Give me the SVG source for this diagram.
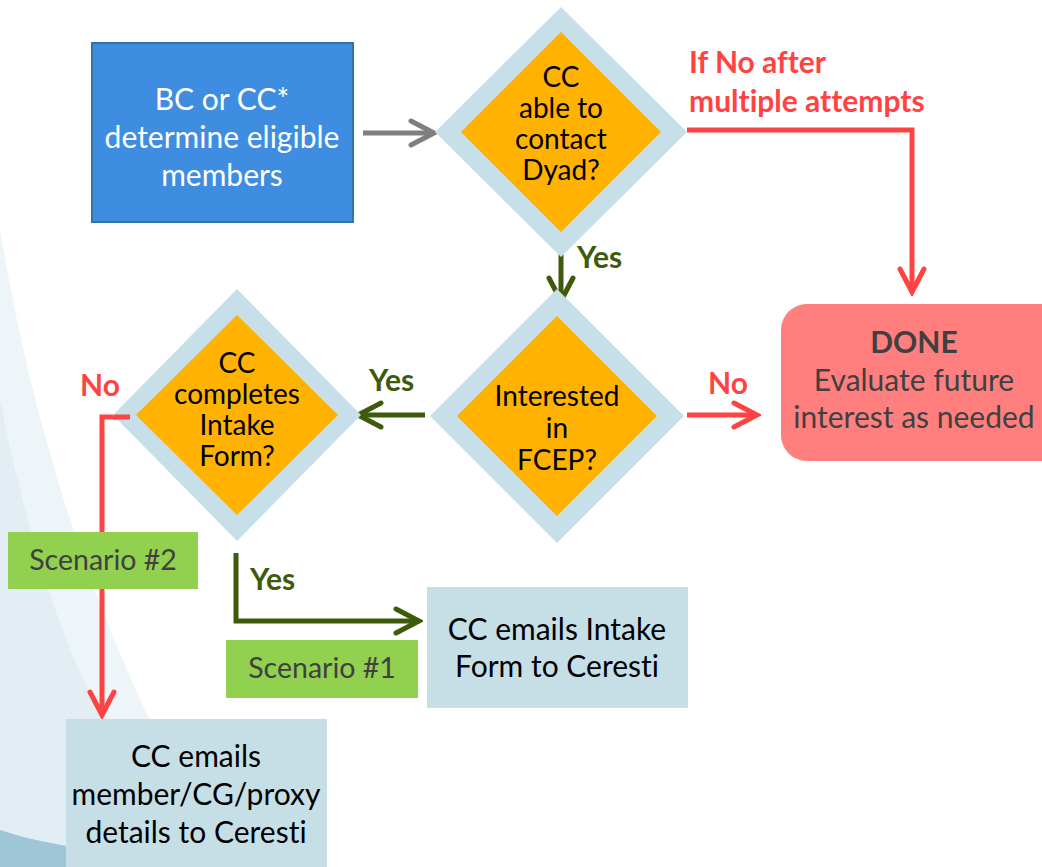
<svg xmlns="http://www.w3.org/2000/svg" width="1042" height="867" viewBox="0 0 1042 867">
<style>
text{font-variant-ligatures:none}
.t{font-family:Lato,"Liberation Sans",sans-serif;text-anchor:middle}
.body{font-size:30px;fill:#000}
.dia{font-size:28px;fill:#000}
.white{fill:#fff}
.grey{fill:#404040}
.lbl{font-family:Lato,"Liberation Sans",sans-serif;font-weight:bold;font-size:30px}
.red{fill:#ff4343}
.grn{fill:#3e5b0c}
.outer{fill:#c6dfe8}
.inner{fill:#ffb300}
.box{fill:#c6dfe7}
.scen{fill:#92d050}
.ln{fill:none;stroke-width:5}
</style>
<defs>
<marker id="ah-red" viewBox="-30 -16 34 32" refX="0" refY="0" markerWidth="34" markerHeight="32" markerUnits="userSpaceOnUse" orient="auto"><path d="M-23,-12 L0,0 L-23,12" fill="none" stroke="#ff4343" stroke-width="5" stroke-linecap="round"/></marker>
<marker id="ah-grn" viewBox="-30 -16 34 32" refX="0" refY="0" markerWidth="34" markerHeight="32" markerUnits="userSpaceOnUse" orient="auto"><path d="M-23,-12 L0,0 L-23,12" fill="none" stroke="#3e5b0c" stroke-width="5" stroke-linecap="round"/></marker>
<marker id="ah-gry" viewBox="-30 -16 34 32" refX="0" refY="0" markerWidth="34" markerHeight="32" markerUnits="userSpaceOnUse" orient="auto"><path d="M-23,-12 L0,0 L-23,12" fill="none" stroke="#7f7f7f" stroke-width="5" stroke-linecap="round"/></marker>
</defs>
<rect width="1042" height="867" fill="#fff"/>
<g id="background">
<path d="M0,230 C40,470 120,700 235,867 L0,867 Z" fill="#eef5f9"/>
<path d="M0,400 C20,500 55,640 110,730 C150,790 190,835 230,867 L0,867 Z" fill="#e2eef4"/>
<path d="M0,830 C60,850 150,858 260,867 L0,867 Z" fill="#9fc6d6"/>
</g>
<g id="connectors">
<line x1="363" y1="133" x2="434" y2="133" class="ln" stroke="#7f7f7f" marker-end="url(#ah-gry)"/>
<polyline points="687,130 912,130 912,292" class="ln" stroke="#ff4343" marker-end="url(#ah-red)"/>
<line x1="561" y1="237" x2="561" y2="301" class="ln" stroke="#3e5b0c" marker-end="url(#ah-grn)"/>
<line x1="687" y1="415" x2="757" y2="415" class="ln" stroke="#ff4343" marker-end="url(#ah-red)"/>
<line x1="425" y1="415" x2="358" y2="415" class="ln" stroke="#3e5b0c" marker-end="url(#ah-grn)"/>
<polyline points="236,553 236,621 419,621" class="ln" stroke="#3e5b0c" marker-end="url(#ah-grn)"/>
<polyline points="130,417 102,417 102,715" class="ln" stroke="#ff4343" marker-end="url(#ah-red)"/>
<text x="689" y="73" class="lbl red">If No after</text>
<text x="689" y="112" class="lbl red">multiple attempts</text>
<text x="577" y="268" class="lbl grn">Yes</text>
<text x="708" y="394" class="lbl red">No</text>
<text x="369" y="391" class="lbl grn">Yes</text>
<text x="80" y="396" class="lbl red">No</text>
<text x="250" y="590" class="lbl grn">Yes</text>
</g>
<g id="start">
<rect x="92" y="43" width="261" height="179" fill="#3f8de0" stroke="#2f75a5" stroke-width="2"/>
<text x="222" y="110" class="t body white">BC or CC*</text>
<text x="222" y="148" class="t body white">determine eligible</text>
<text x="222" y="186" class="t body white">members</text>
</g>
<g id="decision-contact">
<polygon points="561,7 687,132 561,257 435,132" class="outer"/>
<polygon points="561,32 661,132 561,232 461,132" class="inner"/>
<text x="561" y="87" class="t dia">CC</text>
<text x="561" y="118" class="t dia">able to</text>
<text x="561" y="149" class="t dia">contact</text>
<text x="561" y="180" class="t dia">Dyad?</text>
</g>
<g id="done">
<rect x="781" y="304" width="290" height="157" rx="26" fill="#ff7f7f"/>
<text x="914" y="353" class="t body grey" font-weight="bold">DONE</text>
<text x="914" y="391" class="t body grey">Evaluate future</text>
<text x="914" y="428" class="t body grey">interest as needed</text>
</g>
<g id="decision-interested">
<polygon points="557,289 684,416 557,543 430,416" class="outer"/>
<polygon points="557,316 657,416 557,516 457,416" class="inner"/>
<text x="557" y="406" class="t dia">Interested</text>
<text x="557" y="438" class="t dia">in</text>
<text x="557" y="470" class="t dia">FCEP?</text>
</g>
<g id="decision-intake">
<polygon points="237,289 361,415 237,541 113,415" class="outer"/>
<polygon points="237,315 338,415 237,515 136,415" class="inner"/>
<text x="237" y="373" class="t dia">CC</text>
<text x="237" y="404" class="t dia">completes</text>
<text x="237" y="435" class="t dia">Intake</text>
<text x="237" y="466" class="t dia">Form?</text>
</g>
<g id="no-path-overlay">
<line x1="130" y1="417" x2="114" y2="417" class="ln" stroke="#ff4343"/>
</g>
<g id="scenario-2">
<rect x="8" y="532" width="190" height="57" class="scen"/>
<text x="103" y="570" class="t grey" font-size="28.5">Scenario #2</text>
</g>
<g id="scenario-1">
<rect x="226" y="640" width="192" height="58" class="scen"/>
<text x="322" y="678" class="t grey" font-size="28.5">Scenario #1</text>
</g>
<g id="email-intake">
<rect x="427" y="587" width="261" height="121" class="box"/>
<text x="557" y="640" class="t body">CC emails Intake</text>
<text x="557" y="677" class="t body">Form to Ceresti</text>
</g>
<g id="email-details">
<rect x="66" y="719" width="261" height="150" class="box"/>
<text x="196" y="767" class="t body">CC emails</text>
<text x="196" y="805" class="t body">member/CG/proxy</text>
<text x="196" y="843" class="t body">details to Ceresti</text>
</g>
</svg>
